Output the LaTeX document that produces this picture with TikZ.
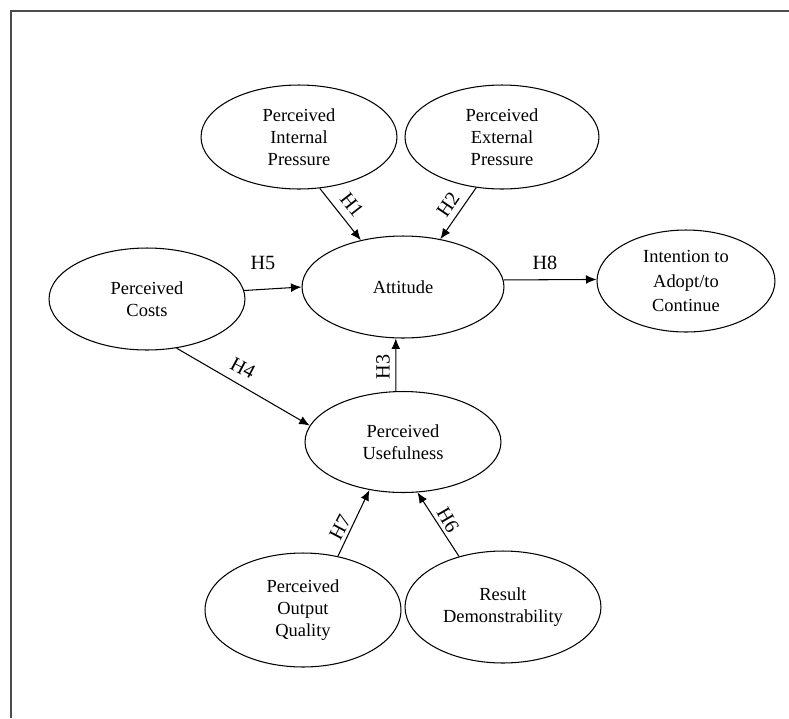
\documentclass[tikz,border=0pt]{standalone}
\usepackage{fontspec}
\setmainfont{Liberation Serif}
\usetikzlibrary{shapes.geometric,arrows.meta}

\begin{document}
\begin{tikzpicture}[
    x=0.02cm, % one unit is one pixel of the 789x718 layout
    y=-0.02cm, % y runs downwards, as in the layout
    every node/.style={font=\fontsize{10.5}{12.5}\selectfont, align=center},
    construct/.style={ellipse, draw, line width=0.6pt, inner sep=0pt},
    hyp/.style={font=\fontsize{11.5}{13}\selectfont, inner sep=1pt},
    hyparrow/.style={line width=0.6pt, -{Latex[length=6pt,width=5pt]}}
    ]

\useasboundingbox (0,0) rectangle (789,718);

% --- Frame (top and left edges only) ---
\draw[gray!60!black, line width=1.2pt] (789,11) -- (11,11) -- (11,718);

% --- Constructs ---
\node[construct, minimum width=3.92cm, minimum height=2.08cm] (intp) at (299,137) {Perceived\\Internal\\Pressure};
\node[construct, minimum width=3.88cm, minimum height=2.08cm] (extp) at (502,137) {Perceived\\External\\Pressure};
\node[construct, minimum width=3.92cm, minimum height=2.04cm] (cost) at (147,299) {Perceived\\Costs};
\node[construct, minimum width=4.04cm, minimum height=2.04cm] (att) at (403,287) {Attitude};
\node[construct, minimum width=3.56cm, minimum height=2.04cm,
      font=\fontsize{10.5}{14}\selectfont] (intent) at (686,281) {Intention to\\Adopt/to\\Continue};
\node[construct, minimum width=3.92cm, minimum height=2.02cm] (use) at (403,442) {Perceived\\Usefulness};
\node[construct, minimum width=3.92cm, minimum height=2.28cm] (outq) at (303,610) {Perceived\\Output\\Quality};
\node[construct, minimum width=3.92cm, minimum height=2.24cm] (resd) at (503,607) {Result\\Demonstrability};

% --- Hypothesis paths ---
\foreach \from/\to in {intp.-68/att.132, extp.-117/att.52, cost.5/att.180,
                       cost.-59/use.170, use.98/att.-98, outq.57/use.-125,
                       resd.131/use.-74, att.4/intent.179} {
    \draw[hyparrow] (\from) -- (\to);
}

% --- Hypothesis labels ---
\foreach \lab/\px/\py/\rot in {H1/352/205/-52, H2/448/205/56, H5/263/263/0,
                               H4/243/368/-28, H3/383/367/90, H7/340/527/62,
                               H6/448/520/-60, H8/545/263/0} {
    \node[hyp, rotate=\rot] (l\lab) at (\px,\py) {\lab};
}

\end{tikzpicture}
\end{document}
